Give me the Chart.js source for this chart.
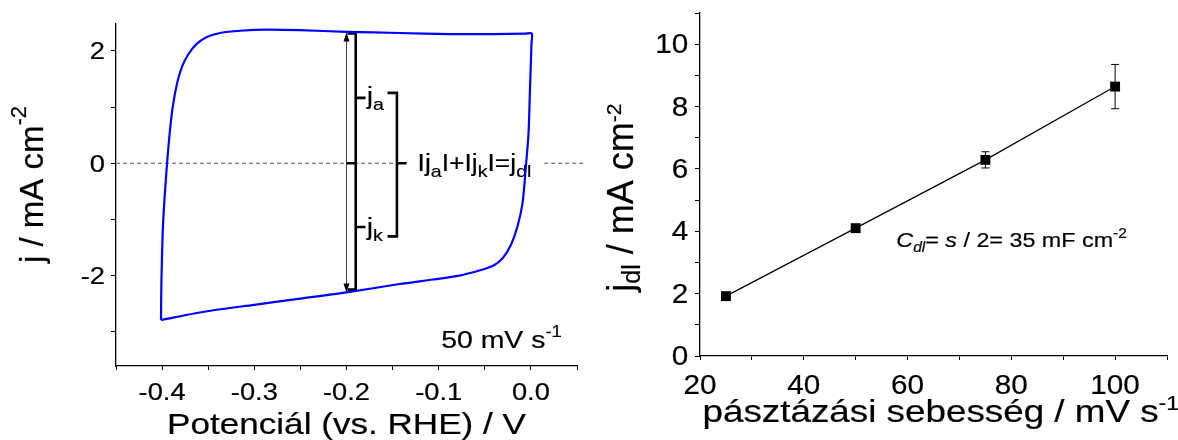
<!DOCTYPE html>
<html>
<head>
<meta charset="utf-8">
<script src="https://cdn.jsdelivr.net/npm/chart.js@4.4.0/dist/chart.umd.min.js"></script>
<style>
  html, body { margin: 0; padding: 0; background: #fff; }
  #wrap { position: relative; width: 1178px; height: 440px; overflow: hidden; }
  canvas { position: absolute; top: 0; }
  #cv { left: 0; }
  #rate { left: 590px; }
</style>
</head>
<body>
<div id="wrap">
  <canvas id="cv" width="590" height="440"></canvas>
  <canvas id="rate" width="588" height="440"></canvas>
</div>
<script>
'use strict';

// cyclic voltammogram at 50 mV/s
const cvPotential = [
    -0.4012, -0.4008, -0.3994, -0.3975, -0.3946, -0.3918, -0.3885, -0.3838, -0.3784, -0.3712,
    -0.3622, -0.3514, -0.337, -0.3154, -0.2865, -0.2505, -0.2, -0.1424, -0.0883, -0.0403, -0.006, 0.001,
    0.0007, -0.0008, -0.0026, -0.0054, -0.009, -0.0145, -0.0216, -0.0307, -0.0415, -0.0559, -0.0775,
    -0.1064, -0.1424, -0.2, -0.25, -0.3, -0.35, -0.4012
];
const cvCurrent = [
    -2.79, -2.15, -1.25, -0.66, 0.00, 0.53, 1.00, 1.42, 1.72, 1.95,
    2.13, 2.25, 2.32, 2.36, 2.38, 2.37, 2.34, 2.32, 2.30, 2.30, 2.31, 2.31,
    2.15, 1.42, 0.53, -0.05, -0.70, -1.12, -1.45, -1.69, -1.83, -1.91, -2.00,
    -2.07, -2.15, -2.30, -2.41, -2.52, -2.63, -2.79
];

// double layer current vs scan rate
const scanRates = [25, 50, 75, 100];
const jdl = [1.92, 4.10, 6.29, 8.64];
const jdlErr = [0.05, 0.1, 0.26, 0.71];

// labelled ticks
const cvXTicks = [-0.4, -0.3, -0.2, -0.1, 0.0];
const cvYTicks = [-2, 0, 2];
const rateXTicks = [20, 40, 60, 80, 100];
const rateYTicks = [0, 2, 4, 6, 8, 10];

const FONT = '"Liberation Sans", Arial, sans-serif';

function part(t, size, dy, italic) {
    return {t: t, size: size, dy: dy || 0, italic: !!italic};
}

function fontStr(p) {
    return (p.italic ? 'italic ' : '') + p.size + 'px ' + FONT;
}

function richWidth(ctx, parts) {
    let w = 0;
    parts.forEach(p => {
        ctx.font = fontStr(p);
        w += ctx.measureText(p.t).width;
    });
    return w;
}

// text pieces in a row, baseline at y, sx stretches along the text
function drawRich(ctx, parts, x, y, opts) {
    opts = opts || {};
    ctx.save();
    ctx.translate(x, y);
    if (opts.rot) ctx.rotate(opts.rot);
    ctx.scale(opts.sx || 1, 1);
    ctx.fillStyle = '#000';
    ctx.strokeStyle = '#000';
    ctx.lineWidth = 0.2;
    ctx.textBaseline = 'alphabetic';
    ctx.textAlign = 'left';
    let w = richWidth(ctx, parts);
    let cx = opts.align === 'right' ? -w : (opts.align === 'center' ? -w / 2 : 0);
    parts.forEach(p => {
        ctx.font = fontStr(p);
        ctx.fillText(p.t, cx, p.dy);
        ctx.strokeText(p.t, cx, p.dy);
        cx += ctx.measureText(p.t).width;
    });
    ctx.restore();
}

function axis(min, max, step, tickLength) {
    return {
        type: 'linear',
        min: min,
        max: max,
        ticks: {display: false, stepSize: step, includeBounds: false},
        grid: {display: true, drawOnChartArea: false, drawTicks: true, tickLength: tickLength, color: '#000', lineWidth: 1},
        border: {display: true, color: '#000', width: 1.3}
    };
}

function drawTickLabels(chart, xs, ys, o) {
    const {ctx, scales: {x, y}} = chart;
    xs.forEach(v => {
        drawRich(ctx, [part(o.fmtX(v), o.size)], x.getPixelForValue(v), o.xBase, {sx: o.sx, align: 'center'});
    });
    ys.forEach(v => {
        drawRich(ctx, [part(String(v), o.size)], o.yRight, y.getPixelForValue(v) + o.yShift, {sx: o.sx, align: 'right'});
    });
}

// ---------- left: CV ----------
const cvNotes = {
    arrowX: -0.2, arrowTop: 2.33, arrowBottom: -2.30,
    brX: -0.19, brTop: 2.31, brBottom: -2.25, nubX: -0.1794, nubA: 1.164, nubK: -1.135,
    sumX: -0.1453, sumLeft: -0.1555, sumTop: 1.253, sumBottom: -1.301, sumNub: -0.1348
};

const cvDecor = {
    id: 'cvDecor',
    beforeDatasetsDraw(chart) {
        const {ctx, scales: {x, y}} = chart;
        const px = v => x.getPixelForValue(v);
        const py = v => y.getPixelForValue(v);
        const n = cvNotes;
        ctx.save();

        // zero line, broken where the label sits
        ctx.strokeStyle = '#555';
        ctx.lineWidth = 1;
        ctx.setLineDash([4, 3]);
        ctx.beginPath();
        ctx.moveTo(px(-0.45), py(0));
        ctx.lineTo(px(n.sumX), py(0));
        ctx.moveTo(px(0.0144), py(0));
        ctx.lineTo(px(0.0594), py(0));
        ctx.stroke();
        ctx.setLineDash([]);

        // double arrow
        ctx.strokeStyle = '#444';
        ctx.lineWidth = 1;
        ctx.beginPath();
        ctx.moveTo(px(n.arrowX), py(n.arrowTop) + 4);
        ctx.lineTo(px(n.arrowX), py(n.arrowBottom) - 4);
        ctx.stroke();
        ctx.fillStyle = '#000';
        const ax = px(n.arrowX);
        [[py(n.arrowTop), 1], [py(n.arrowBottom), -1]].forEach(([ty, d]) => {
            ctx.beginPath();
            ctx.moveTo(ax, ty);
            ctx.lineTo(ax - 3, ty + d * 9);
            ctx.lineTo(ax + 3, ty + d * 9);
            ctx.closePath();
            ctx.fill();
        });

        // brackets
        ctx.strokeStyle = '#000';
        ctx.lineWidth = 2.6;
        ctx.lineJoin = 'miter';
        ctx.beginPath();
        ctx.moveTo(px(n.arrowX) + 1, py(n.brTop));
        ctx.lineTo(px(n.brX), py(n.brTop));
        ctx.lineTo(px(n.brX), py(n.brBottom));
        ctx.lineTo(px(n.arrowX) + 1, py(n.brBottom));
        ctx.moveTo(px(n.arrowX), py(0));
        ctx.lineTo(px(n.brX), py(0));
        ctx.moveTo(px(n.brX), py(n.nubA));
        ctx.lineTo(px(n.nubX), py(n.nubA));
        ctx.moveTo(px(n.brX), py(n.nubK));
        ctx.lineTo(px(n.nubX), py(n.nubK));
        ctx.stroke();

        ctx.beginPath();
        ctx.moveTo(px(n.sumLeft), py(n.sumTop));
        ctx.lineTo(px(n.sumX), py(n.sumTop));
        ctx.lineTo(px(n.sumX), py(n.sumBottom));
        ctx.lineTo(px(n.sumLeft), py(n.sumBottom));
        ctx.moveTo(px(n.sumX), py(0));
        ctx.lineTo(px(n.sumNub), py(0));
        ctx.stroke();
        ctx.restore();

        const sx = 1.15;
        drawRich(ctx, [part('j', 23), part('a', 17, 6)], px(-0.1777), py(1.052), {sx: sx});
        drawRich(ctx, [part('j', 23), part('k', 17, 6)], px(-0.1777), py(-1.283), {sx: sx});
        drawRich(ctx, [
            part('Ij', 23), part('a', 17, 6), part('I+Ij', 23), part('k', 17, 6),
            part('I=j', 23), part('dl', 17, 6)
        ], px(-0.1229), py(-0.143), {sx: sx});
        drawRich(ctx, [part('50 mV s', 24.5), part('-1', 16, -11)], px(-0.0973), py(-3.292), {sx: 1.16});
    },
    afterDraw(chart) {
        const ctx = chart.ctx;
        drawTickLabels(chart, cvXTicks, cvYTicks, {
            size: 23.5, sx: 1.16, xBase: 399.5, yRight: 105, yShift: 8.5,
            fmtX: v => v.toFixed(1)
        });
        drawRich(ctx, [part('Potenciál (vs. RHE) / V', 30)], 346.5, 434, {sx: 1.17, align: 'center'});
        drawRich(ctx, [part('j / mA cm', 33), part('-2', 22, -17)], 43, 263, {rot: -Math.PI / 2});
    }
};

new Chart(document.getElementById('cv').getContext('2d'), {
    type: 'scatter',
    data: {
        datasets: [{
            data: cvPotential.map((v, i) => ({x: v, y: cvCurrent[i]})),
            showLine: true,
            borderColor: '#0000ff',
            borderWidth: 2.2,
            pointRadius: 0,
            tension: 0.25,
            fill: false
        }]
    },
    options: {
        responsive: false,
        animation: false,
        devicePixelRatio: 1,
        layout: {padding: {left: 111, top: 24, right: 13, bottom: 70}},
        plugins: {legend: {display: false}, tooltip: {enabled: false}},
        scales: {
            x: Object.assign(axis(-0.45, 0.05, 0.05, 4), {position: 'bottom'}),
            y: Object.assign(axis(-3.61, 2.48, 1, 5), {position: 'left'})
        }
    },
    plugins: [cvDecor]
});

// ---------- right: j_dl vs scan rate ----------
const rateDecor = {
    id: 'rateDecor',
    beforeDatasetsDraw(chart) {
        const {ctx, scales: {x, y}} = chart;
        ctx.save();
        ctx.strokeStyle = '#000';
        ctx.lineWidth = 1;
        scanRates.forEach((r, i) => {
            const cx = x.getPixelForValue(r);
            const top = y.getPixelForValue(jdl[i] + jdlErr[i]);
            const bot = y.getPixelForValue(jdl[i] - jdlErr[i]);
            ctx.beginPath();
            ctx.moveTo(cx, top);
            ctx.lineTo(cx, bot);
            ctx.moveTo(cx - 4, top);
            ctx.lineTo(cx + 4, top);
            ctx.moveTo(cx - 4, bot);
            ctx.lineTo(cx + 4, bot);
            ctx.stroke();
        });
        ctx.restore();
        drawRich(ctx, [
            part('C', 21, 0, true), part('dl', 14, 5, true), part('= ', 21),
            part('s', 21, 0, true), part(' / 2= 35 mF cm', 21), part('-2', 14, -9)
        ], x.getPixelForValue(57.83), y.getPixelForValue(3.507), {sx: 1.11});
    },
    afterDraw(chart) {
        const ctx = chart.ctx;
        drawTickLabels(chart, rateXTicks, rateYTicks, {
            size: 27, sx: 1.1, xBase: 393.5, yRight: 98.3, yShift: 9,
            fmtX: v => String(v)
        });
        drawRich(ctx, [part('pásztázási sebesség / mV s', 32), part('-1', 20, -12)], 112.5, 421.5, {sx: 1.15});
        drawRich(ctx, [part('j', 36), part('dl', 25, 7), part(' / mA cm', 36), part('-2', 21, -12)],
            43.3, 291.7, {rot: -Math.PI / 2});
    }
};

new Chart(document.getElementById('rate').getContext('2d'), {
    type: 'scatter',
    data: {
        datasets: [{
            data: scanRates.map((r, i) => ({x: r, y: jdl[i]})),
            showLine: true,
            borderColor: '#000',
            borderWidth: 1.2,
            backgroundColor: '#000',
            pointStyle: 'rect',
            pointRadius: 7,
            pointBorderWidth: 0,
            tension: 0
        }]
    },
    options: {
        responsive: false,
        animation: false,
        devicePixelRatio: 1,
        layout: {padding: {left: 105, top: 13, right: 11, bottom: 80}},
        plugins: {legend: {display: false}, tooltip: {enabled: false}},
        scales: {
            x: Object.assign(axis(20, 110, 10, 4), {position: 'bottom'}),
            y: Object.assign(axis(0, 11, 1, 5), {position: 'left'})
        }
    },
    plugins: [rateDecor]
});
</script>
</body>
</html>
